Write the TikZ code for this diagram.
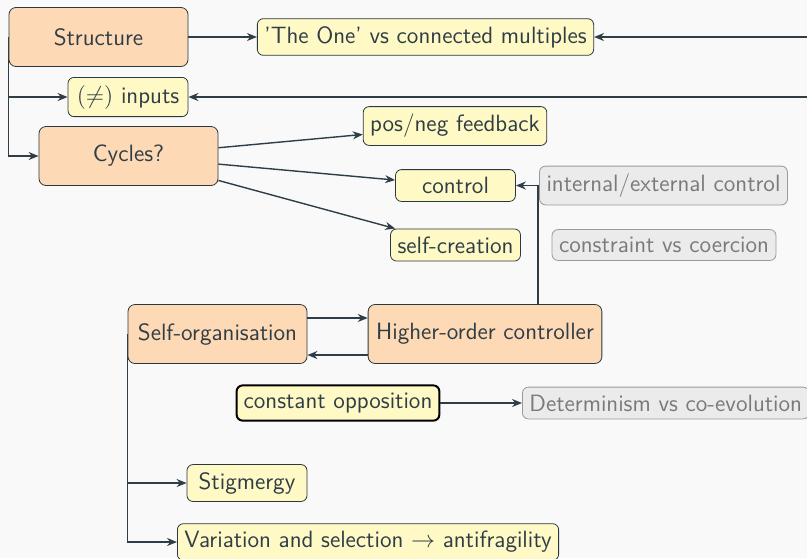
\documentclass[tikz,border=0pt]{standalone}
\usetikzlibrary{arrows.meta}
\definecolor{ink}{HTML}{2F3E46}
\definecolor{peach}{HTML}{FDD9B5}
\definecolor{lemon}{HTML}{FFF9C6}
\definecolor{mist}{HTML}{EBEBEB}
\definecolor{ash}{HTML}{9A9A9A}
\definecolor{ashtext}{HTML}{7A7A7A}
\definecolor{paper}{HTML}{F9F9F9}
\begin{document}
\begin{tikzpicture}[%
        x=.5pt, y=-.5pt,%
        font=\sffamily\fontsize{11.8}{14}\selectfont,%
        >={Stealth[length=5pt,width=4pt]},%
        link/.style={->, draw=ink, line width=.7pt},%
        theme/.style={%
            rounded corners=3.5pt,%
            minimum width=89.5pt,%
            minimum height=29.5pt,%
            inner xsep=4pt,%
            draw=ink!90!black,%
            fill=peach,%
            text=ink%
        },%
        leaf/.style={%
            rounded corners=3pt,%
            minimum width=60pt,%
            inner xsep=3.5pt,%
            inner ysep=3.8pt,%
            draw=ink!90!black,%
            fill=lemon,%
            text=ink%
        },%
        aside/.style={%
            rounded corners=3pt,%
            inner xsep=3.5pt,%
            inner ysep=3.8pt,%
            draw=ash,%
            fill=mist,%
            text=ashtext%
        }%
    ]
    \fill [paper] (0,0) rectangle (807,558);
    \useasboundingbox (0,0) rectangle (807,558);
    % main themes
    \node (structure) at ( 98.5, 37) [theme]{Structure};
    \node (cycles)    at (128.5,156) [theme]{Cycles?};
    \node (selforg)   at (217.5,334) [theme]{Self-organisation};
    \node (hoc)       at (  485,334) [theme]{Higher-order controller};
    % leaves
    \node (theone)    at (425.5, 37) [leaf]{'The One' vs connected multiples};
    \node (inputs)    at (  128, 97) [leaf]{$(\neq)$ inputs};
    \node (posneg)    at (  455,126) [leaf]{pos/neg feedback};
    \node (control)   at (455.5,185.5) [leaf]{control};
    \node (selfcreat) at (455.5,245) [leaf]{self-creation};
    \node (constopp)  at (  338,403) [leaf,draw=black,line width=1pt]{constant opposition};
    \node (stigmergy) at (  247,483) [leaf]{Stigmergy};
    \node (variation) at (  177,542) [leaf,anchor=west]{Variation and selection $\rightarrow$ antifragility};
    % side notes
    \node (intext)    at (663.5,185.5) [aside]{internal/external control};
    \node (coercion)  at (  664,245) [aside]{constraint vs coercion};
    \node (determ)    at (  522,403) [aside,anchor=west]{Determinism vs co-evolution};
    % links coming from outside the frame
    \coordinate (farone)    at (812, 37);
    \coordinate (farinputs) at (812, 97);
    \draw [link] (structure) -- (theone);
    \draw [link] (farone) -- (theone);
    \draw [link] (farinputs) -- (inputs);
    \draw [link] (structure.west) |- (inputs.west);
    \draw [link] (structure.west) |- (cycles.west);
    \draw [link] (cycles) -- (posneg);
    \draw [link] (cycles) -- (control);
    \draw [link] (cycles) -- (selfcreat);
    \draw [link] ([xshift=26.5pt]hoc.north) |- (control);
    \draw [link] ([yshift=8pt]selforg.east) -- ([yshift=8pt]selforg.east -| hoc.west);
    \draw [link] ([yshift=-10.5pt]hoc.west) -- ([yshift=-10.5pt]hoc.west -| selforg.east);
    \draw [link] (selforg.west) |- (stigmergy.west);
    \draw [link] (selforg.west) |- (variation.west);
    \draw [link] (constopp) -- (determ);
\end{tikzpicture}
\end{document}
